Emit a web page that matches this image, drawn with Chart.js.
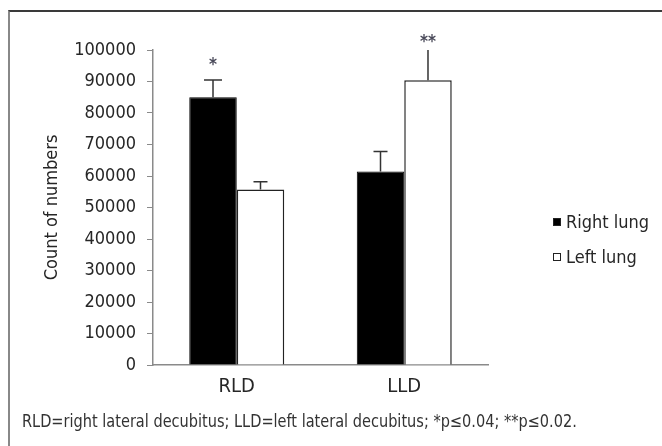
<!DOCTYPE html>
<html>
<head>
<meta charset="utf-8">
<script src="https://cdn.jsdelivr.net/npm/chart.js@4.4.1/dist/chart.umd.min.js"></script>
<style>
  html, body { margin: 0; padding: 0; background: #fff; }
  body { width: 662px; height: 446px; position: relative; overflow: hidden;
         font-family: "Liberation Sans Narrow", "DejaVu Sans Condensed", sans-serif; }
  #frame { position: absolute; left: 8px; top: 10px; width: 660px; height: 440px;
           border-top: 2px solid #3a3a3a; border-left: 2px solid #888; }
  #wrap { position: absolute; left: 0; top: 0; width: 662px; height: 446px; }
  #caption { position: absolute; left: 22px; top: 411px; font-size: 17px; color: #333;
             white-space: nowrap; transform: scaleX(0.95); transform-origin: left center; }
</style>
</head>
<body>
<div id="frame"></div>
<div id="wrap"><canvas id="chart" width="662" height="446"></canvas></div>
<div id="caption">RLD=right lateral decubitus; LLD=left lateral decubitus; *p≤0.04; **p≤0.02.</div>
<script>
// data
const categories = ['RLD', 'LLD'];
const rightLung    = [85000, 61400];
const leftLung     = [55700, 90400];
const rightLungErr = [5500, 6400];
const leftLungErr  = [2500, 9600];
const yTicks = [0, 10000, 20000, 30000, 40000, 50000, 60000, 70000, 80000, 90000, 100000];
// significance markers: [datasetIndex, categoryIndex, label, value position]
const stars = [
  [0, 0, '*', 95000],
  [1, 1, '**', 102300],
];

const FONT = '"Liberation Sans Narrow", "DejaVu Sans Condensed", sans-serif';
const INK = '#262626';

const errorBars = {
  id: 'errorBars',
  afterDatasetsDraw(chart) {
    const ctx = chart.ctx;
    const y = chart.scales.y;
    const errs = [rightLungErr, leftLungErr];
    const caps = [[9, 7], [7, 0]];
    ctx.save();
    ctx.strokeStyle = '#333';
    ctx.lineWidth = 1.5;
    chart.data.datasets.forEach((ds, di) => {
      chart.getDatasetMeta(di).data.forEach((bar, i) => {
        const top = y.getPixelForValue(ds.data[i] + errs[di][i]);
        const x = bar.x;
        ctx.beginPath();
        ctx.moveTo(x, bar.y);
        ctx.lineTo(x, top);
        const c = caps[di][i];
        if (c) { ctx.moveTo(x - c, top); ctx.lineTo(x + c, top); }
        ctx.stroke();
      });
    });

    // asterisks
    ctx.fillStyle = '#4a4a5a';
    ctx.font = 'bold 17px ' + FONT;
    ctx.textAlign = 'center';
    ctx.textBaseline = 'middle';
    stars.forEach(([di, ci, txt, v]) => {
      const bar = chart.getDatasetMeta(di).data[ci];
      ctx.fillText(txt, bar.x, y.getPixelForValue(v));
    });

    // legend on the right
    ctx.font = '18px ' + FONT;
    ctx.textAlign = 'left';
    const items = [['Right lung', '#000', 222], ['Left lung', '#fff', 257]];
    items.forEach(([lab, col, cy]) => {
      ctx.fillStyle = col;
      ctx.fillRect(553, cy - 4, 8, 8);
      ctx.strokeStyle = '#222';
      ctx.lineWidth = 1;
      ctx.strokeRect(553.5, cy - 3.5, 7, 7);
      ctx.fillStyle = INK;
      ctx.fillText(lab, 566, cy + 1);
    });
    ctx.restore();
  }
};

new Chart(document.getElementById('chart'), {
  type: 'bar',
  data: {
    labels: categories,
    datasets: [
      { label: 'Right lung', data: rightLung, backgroundColor: '#000', borderColor: '#000', borderWidth: 1 },
      { label: 'Left lung', data: leftLung, backgroundColor: '#fff', borderColor: '#222', borderWidth: 1.5 },
    ],
  },
  options: {
    responsive: false,
    animation: false,
    devicePixelRatio: 1,
    categoryPercentage: 0.567,
    barPercentage: 1,
    layout: { padding: { top: 50, right: 174, bottom: 41, left: 0 } },
    plugins: { legend: { display: false }, tooltip: { enabled: false } },
    scales: {
      x: {
        grid: { display: false, drawTicks: false },
        border: { display: true, color: '#8a8a8a', width: 1.5 },
        ticks: { color: INK, padding: 10, font: { family: FONT, size: 20 } },
        afterFit: s => { s.height = 40; },
      },
      y: {
        min: 0, max: 100000,
        afterBuildTicks: s => { s.ticks = yTicks.map(v => ({ value: v })); },
        grid: { drawOnChartArea: false, drawTicks: true, tickLength: 6, color: '#8a8a8a' },
        border: { display: true, color: '#8a8a8a', width: 1.5 },
        ticks: { color: INK, padding: 11, font: { family: FONT, size: 18 },
                 callback: v => String(v) },
        title: { display: true, text: 'Count of numbers', color: INK, padding: { top: 42 },
                 font: { family: FONT, size: 18 } },
        afterFit: s => { s.width = 153; },
      },
    },
  },
  plugins: [errorBars],
});
</script>
</body>
</html>
